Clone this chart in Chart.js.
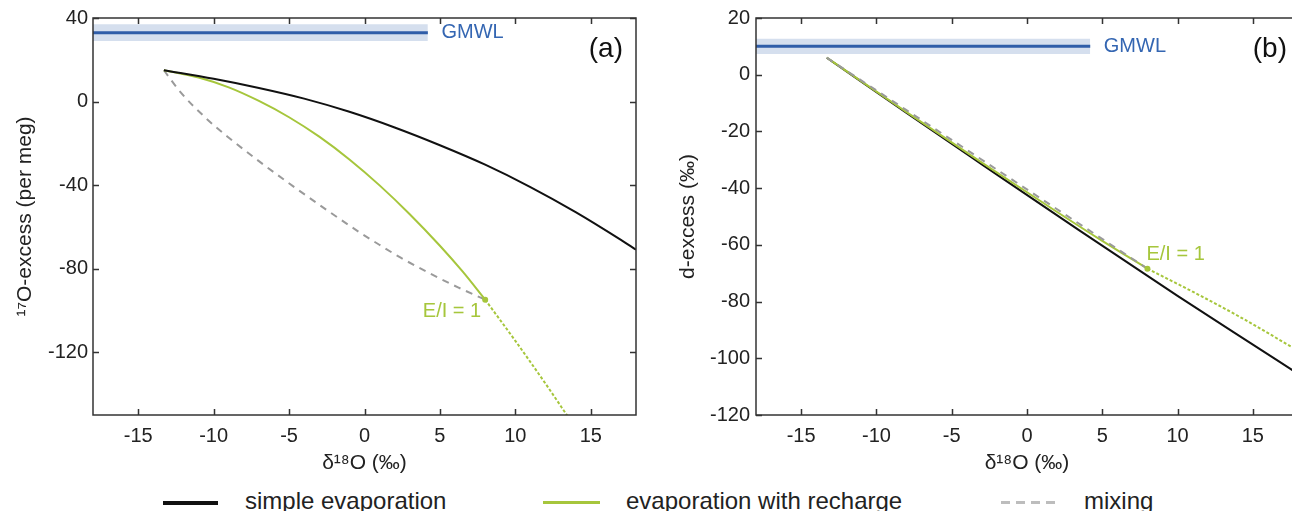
<!DOCTYPE html>
<html>
<head>
<meta charset="utf-8">
<script src="https://cdn.jsdelivr.net/npm/chart.js@4.4.1/dist/chart.umd.min.js"></script>
<style>
  html, body { margin: 0; padding: 0; background: #fff; }
  body { width: 1292px; height: 511px; overflow: hidden; position: relative; font-family: "Liberation Sans", Arial, sans-serif; }
  .panel { position: absolute; top: 0; height: 480px; }
  #wrapA { left: 0; width: 650px; }
  #wrapB { left: 650px; width: 660px; }
  .lg-text { position: absolute; top: 489px; font-size: 24px; line-height: 24px; color: #222; white-space: nowrap; }
  .lg-line { position: absolute; top: 501px; height: 3px; }
</style>
</head>
<body>
<div class="panel" id="wrapA"><canvas id="chartA"></canvas></div>
<div class="panel" id="wrapB"><canvas id="chartB"></canvas></div>
<div id="legend"></div>
<script>
// Axis ticks
const xTicks = [-15, -10, -5, 0, 5, 10, 15];
const yTicksA = [40, 0, -40, -80, -120];
const yTicksB = [20, 0, -20, -40, -60, -80, -100, -120];

// GMWL reference line (with uncertainty band)
const gmwlX = [-18, 4.2];
const gmwlA = [33, 33];
const gmwlAHi = [37, 37];
const gmwlALo = [29, 29];
const gmwlB = [10, 10];
const gmwlBHi = [12.7, 12.7];
const gmwlBLo = [7.3, 7.3];

// Panel (a): 17O-excess
const simpleAx = [-13.3, -10, -7, -4, -1, 2, 5, 8, 11, 14, 17, 18];
const simpleAy = [15, 10.9, 6.5, 1.4, -4.9, -12.4, -20.9, -30.2, -40.9, -52.9, -66.2, -70.9];
const rechargeAx = [-13.3, -11, -9, -7, -5, -3, -1, 1, 3, 5, 6.5, 8.0];
const rechargeAy = [15, 11.5, 6.8, 0.3, -7.5, -16.8, -27.7, -40.1, -53.9, -69.0, -81.3, -94.8];
const rechargeExtAx = [8.0, 10.0, 12.0, 13.6];
const rechargeExtAy = [-94.8, -114.5, -135, -152];
const mixingAx = [-13.3, -12.2, -10.5, -9.1, -7, -4.7, -2.5, -0.3, 1, 2.4, 4.4, 6.2, 8.0];
const mixingAy = [15, 4.5, -8, -16.7, -28.5, -40.7, -51.9, -62.7, -68.6, -74.7, -82.5, -88.9, -94.8];
const eiA = [8.0, -94.8];

// Panel (b): d-excess
const simpleBx = [-13.3, -8, -3, 3.5, 10, 16.5, 18];
const simpleBy = [6, -13.5, -31.6, -55, -78, -100.3, -105.5];
const rechargeBx = [-13.3, -8, -3, 2, 5, 8];
const rechargeBy = [6, -13.2, -31, -48.4, -58.6, -68.4];
const rechargeExtBx = [8, 11, 14, 18];
const rechargeExtBy = [-68.4, -76.5, -85, -97.3];
const mixingBx = [-13.3, 8];
const mixingBy = [6, -68.4];
const eiB = [8.0, -68.4];

const seriesNames = ['simple evaporation', 'evaporation with recharge', 'mixing'];

const FONT = '"Liberation Sans", Arial, sans-serif';
const BLACK = '#111111';
const GREEN = '#a6c63c';
const GRAY = '#9a9a9a';
const BLUE = '#2f5da8';
const BAND = '#d5dfee';

Chart.defaults.font.family = FONT;
Chart.defaults.color = '#222';

function pts(xs, ys) {
    return xs.map((v, i) => ({ x: v, y: ys[i] }));
}

function curve(xs, ys, color, width, dash) {
    return {
        data: pts(xs, ys),
        borderColor: color,
        borderWidth: width,
        borderDash: dash || [],
        pointRadius: 0,
        showLine: true,
        fill: false,
        cubicInterpolationMode: 'monotone'
    };
}

function gmwlSets(hi, mid, lo) {
    return [
        { data: pts(gmwlX, mid), borderColor: BLUE, borderWidth: 3, pointRadius: 0, showLine: true, fill: false },
        { data: pts(gmwlX, hi), borderWidth: 0, borderColor: 'rgba(0,0,0,0)', pointRadius: 0, showLine: true, fill: '+1', backgroundColor: BAND },
        { data: pts(gmwlX, lo), borderWidth: 0, borderColor: 'rgba(0,0,0,0)', pointRadius: 0, showLine: true, fill: false }
    ];
}

function eiPoint(p) {
    return { data: [{ x: p[0], y: p[1] }], pointRadius: 3, pointBackgroundColor: GREEN, pointBorderWidth: 0, showLine: false };
}

// Box with inward ticks on all four sides
const framePlugin = {
    id: 'frame',
    afterDatasetsDraw(chart) {
        const { ctx, chartArea: a, scales: { x, y } } = chart;
        ctx.save();
        ctx.strokeStyle = '#333';
        ctx.lineWidth = 1.5;
        ctx.strokeRect(a.left, a.top, a.right - a.left, a.bottom - a.top);
        ctx.beginPath();
        x.ticks.forEach(t => {
            const px = Math.round(x.getPixelForValue(t.value)) + 0.5;
            ctx.moveTo(px, a.bottom); ctx.lineTo(px, a.bottom - 6);
            ctx.moveTo(px, a.top); ctx.lineTo(px, a.top + 6);
        });
        y.ticks.forEach(t => {
            const py = Math.round(y.getPixelForValue(t.value)) + 0.5;
            ctx.moveTo(a.left, py); ctx.lineTo(a.left + 6, py);
            ctx.moveTo(a.right, py); ctx.lineTo(a.right - 6, py);
        });
        ctx.stroke();
        ctx.restore();
    }
};

// GMWL label, E/I = 1 label, panel tag
const notesPlugin = {
    id: 'notes',
    afterDraw(chart, args, o) {
        const { ctx, chartArea: a, scales: { x, y } } = chart;
        ctx.save();
        ctx.textBaseline = 'middle';
        ctx.font = '20px ' + FONT;
        ctx.fillStyle = '#3466b2';
        ctx.textAlign = 'left';
        ctx.fillText('GMWL', x.getPixelForValue(o.gmwlX), y.getPixelForValue(o.gmwlY));
        ctx.fillStyle = GREEN;
        ctx.textAlign = o.eiAlign;
        ctx.fillText('E/I = 1', x.getPixelForValue(o.ei[0]) + o.eiDx, y.getPixelForValue(o.ei[1]) + o.eiDy);
        ctx.fillStyle = '#111';
        ctx.font = '28px ' + FONT;
        ctx.textAlign = 'right';
        ctx.fillText(o.tag, a.right - o.tagDx, a.top + 31);
        ctx.restore();
    }
};

function makeScales(yMin, yMax, yTicks, yTitle, yWidth, yTitlePad, yTickPad) {
    return {
        x: {
            type: 'linear', min: -18, max: 18,
            afterBuildTicks: s => { s.ticks = xTicks.map(v => ({ value: v })); },
            afterFit: s => { s.height = 65; },
            grid: { display: false, drawTicks: false },
            border: { display: false },
            ticks: { color: '#222', font: { size: 20 }, padding: 9, maxRotation: 0, callback: v => String(v) },
            title: { display: true, text: 'δ¹⁸O (‰)', color: '#222', font: { size: 21 }, padding: { top: 0, bottom: 4 } }
        },
        y: {
            type: 'linear', min: yMin, max: yMax,
            afterBuildTicks: s => { s.ticks = yTicks.map(v => ({ value: v })); },
            afterFit: s => { s.width = yWidth; },
            grid: { display: false, drawTicks: false },
            border: { display: false },
            ticks: { color: '#222', font: { size: 20 }, padding: yTickPad, callback: v => String(v) },
            title: { display: true, text: yTitle, color: '#222', font: { size: 21 }, padding: { top: yTitlePad, bottom: 0 } }
        }
    };
}

function baseOptions(scales, notes, padRight) {
    return {
        responsive: true,
        maintainAspectRatio: false,
        animation: false,
        layout: { padding: { top: 18, right: padRight, left: 0, bottom: 0 } },
        plugins: { legend: { display: false }, tooltip: { enabled: false }, notes: notes },
        scales: scales
    };
}

new Chart(document.getElementById('chartA'), {
    type: 'scatter',
    data: {
        datasets: [
            eiPoint(eiA),
            curve(simpleAx, simpleAy, BLACK, 2),
            curve(rechargeAx, rechargeAy, GREEN, 2),
            curve(rechargeExtAx, rechargeExtAy, GREEN, 2, [3, 2]),
            curve(mixingAx, mixingAy, GRAY, 2, [7, 6]),
            ...gmwlSets(gmwlAHi, gmwlA, gmwlALo)
        ]
    },
    options: baseOptions(
        makeScales(-150, 40, yTicksA, '¹⁷O-excess (per meg)', 93, 13, 5),
        { gmwlX: 5.1, gmwlY: 33, ei: eiA, eiDx: -4, eiDy: 12, eiAlign: 'right', tag: '(a)', tagDx: 13 },
        14
    ),
    plugins: [framePlugin, notesPlugin]
});

new Chart(document.getElementById('chartB'), {
    type: 'scatter',
    data: {
        datasets: [
            eiPoint(eiB),
            curve(mixingBx, mixingBy, GRAY, 2, [7, 6]),
            curve(rechargeBx, rechargeBy, GREEN, 2),
            curve(rechargeExtBx, rechargeExtBy, GREEN, 2, [3, 2]),
            curve(simpleBx, simpleBy, BLACK, 2),
            ...gmwlSets(gmwlBHi, gmwlB, gmwlBLo)
        ]
    },
    options: baseOptions(
        makeScales(-120, 20, yTicksB, 'd-excess (‰)', 106, 26, 6),
        { gmwlX: 5.1, gmwlY: 10, ei: eiB, eiDx: -1, eiDy: -14, eiAlign: 'left', tag: '(b)', tagDx: 11 },
        12
    ),
    plugins: [framePlugin, notesPlugin]
});

// Shared legend under both panels
const legendItems = [
    { lineX: 163, lineW: 55, textX: 245, style: 'background:' + BLACK + ';height:4px;' },
    { lineX: 543, lineW: 57, textX: 626, style: 'background:' + GREEN + ';' },
    { lineX: 1001, lineW: 57, textX: 1084, style: 'background:repeating-linear-gradient(90deg,#bdbdbd 0 9px,transparent 9px 15px);' }
];
const legend = document.getElementById('legend');
legendItems.forEach((it, i) => {
    legend.innerHTML += `<div class="lg-line" style="left:${it.lineX}px;width:${it.lineW}px;${it.style}"></div>` +
        `<div class="lg-text" style="left:${it.textX}px">${seriesNames[i]}</div>`;
});
</script>
</body>
</html>
